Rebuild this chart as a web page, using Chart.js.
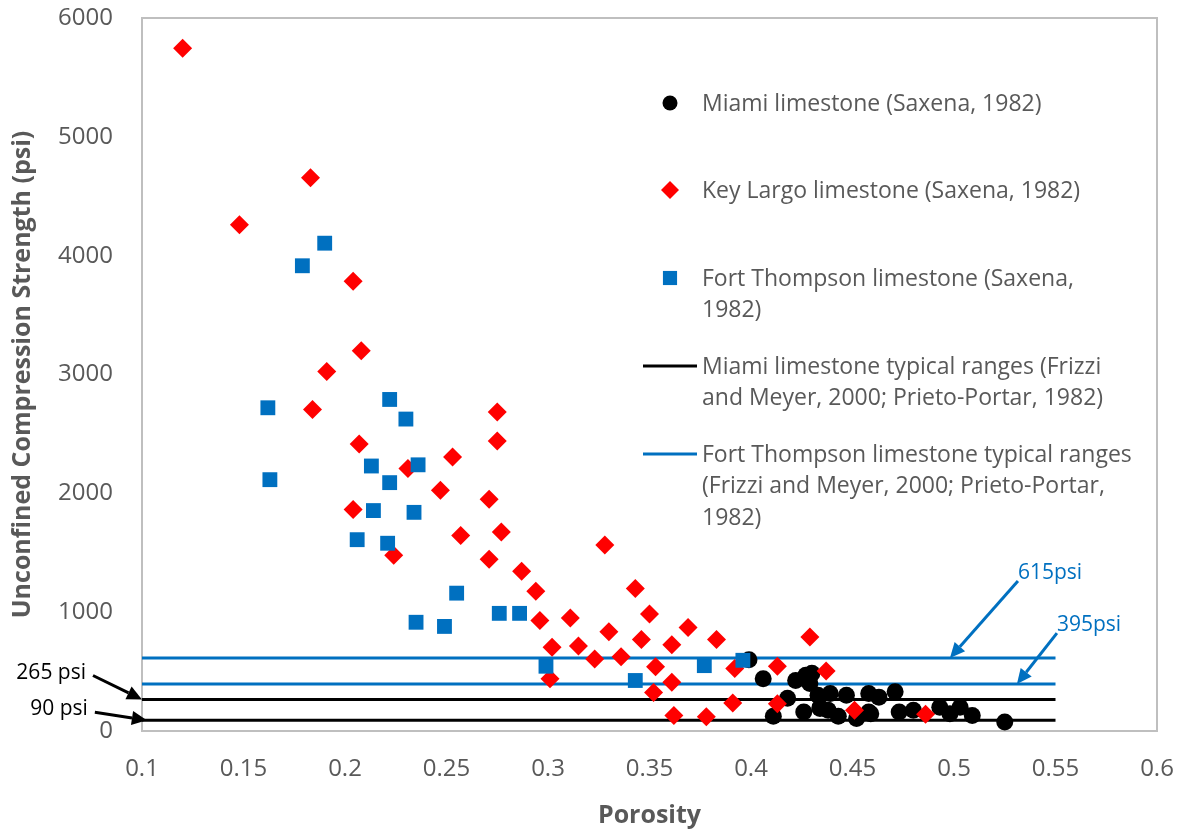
<!DOCTYPE html>
<html>
<head>
<meta charset="utf-8">
<script src="https://cdn.jsdelivr.net/npm/chart.js@4.4.0/dist/chart.umd.min.js"></script>
<style>
  html, body { margin: 0; padding: 0; background: #fff; }
  #wrap { width: 1183px; height: 833px; }
</style>
</head>
<body>
<div id="wrap"><canvas id="grafico" width="1183" height="833"></canvas></div>
<script>
// Miami limestone (Saxena, 1982)
const miamiPorosidade = [0.399, 0.406, 0.422, 0.427, 0.430, 0.429, 0.418, 0.411, 0.426, 0.433, 0.439, 0.447, 0.434, 0.438, 0.443,
  0.458, 0.458, 0.452, 0.463, 0.471, 0.434, 0.459, 0.473, 0.480, 0.493, 0.498, 0.503, 0.509, 0.525];
const miamiResistencia = [600, 440, 425, 470, 485, 400, 275, 125, 160, 300, 315, 300, 190, 175, 125,
  315, 160, 105, 285, 330, 200, 145, 160, 175, 200, 145, 200, 130, 75];

// Key Largo limestone (Saxena, 1982)
const keyLargoPorosidade = [0.120, 0.148, 0.183, 0.204, 0.191, 0.208, 0.184, 0.207, 0.253, 0.231, 0.247, 0.204, 0.271, 0.257, 0.224,
  0.271, 0.275, 0.275, 0.277, 0.287, 0.328, 0.294, 0.296, 0.311, 0.302, 0.315, 0.301, 0.323, 0.343, 0.330, 0.350, 0.346, 0.336,
  0.361, 0.369, 0.383, 0.353, 0.361, 0.352, 0.362, 0.378, 0.391, 0.392, 0.413, 0.429, 0.413, 0.437, 0.451, 0.486];
const keyLargoResistencia = [5745, 4260, 4655, 3785, 3025, 3200, 2705, 2415, 2305, 2210, 2025, 1865, 1950, 1645, 1480,
  1445, 2685, 2440, 1675, 1345, 1565, 1175, 930, 950, 705, 715, 440, 605, 1200, 835, 985, 770, 625,
  725, 870, 770, 540, 410, 325, 130, 120, 235, 525, 545, 790, 230, 505, 175, 140];

// Fort Thompson limestone (Saxena, 1982)
const fortPorosidade = [0.190, 0.179, 0.162, 0.163, 0.222, 0.230, 0.213, 0.236, 0.222, 0.214, 0.234, 0.206, 0.221,
  0.235, 0.249, 0.255, 0.276, 0.286, 0.299, 0.343, 0.377, 0.396];
const fortResistencia = [4105, 3915, 2720, 2115, 2790, 2625, 2230, 2240, 2090, 1855, 1840, 1610, 1580,
  915, 880, 1160, 990, 990, 545, 425, 550, 595];

// faixas típicas (psi) e extensão das linhas em porosidade
const faixaMiami = [90, 265];
const faixaFort = [395, 615];
const faixaPorosidade = [0.1, 0.55];

const rotulosLegenda = [
  ['Miami limestone (Saxena, 1982)'],
  ['Key Largo limestone (Saxena, 1982)'],
  ['Fort Thompson limestone (Saxena,', '1982)'],
  ['Miami limestone typical ranges (Frizzi', 'and Meyer, 2000; Prieto-Portar, 1982)'],
  ['Fort Thompson limestone typical ranges', '(Frizzi and Meyer, 2000; Prieto-Portar,', '1982)']
];

const AZUL = '#0070C0';
const VERMELHO = '#FF0000';
const PRETO = '#000000';
const CINZA = '#595959';
const FONTE = '"Open Sans", Lato, sans-serif';

Chart.defaults.font.family = FONTE;

function pontos(xs, ys) {
  return xs.map((x, i) => ({ x: x, y: ys[i] }));
}

function linhaFaixa(valor, cor, rotulo) {
  return {
    type: 'line',
    label: rotulo,
    data: faixaPorosidade.map(x => ({ x: x, y: valor })),
    borderColor: cor,
    borderWidth: 3,
    pointRadius: 0,
    fill: false,
    order: 5
  };
}

const datasets = [
  {
    label: rotulosLegenda[2].join(' '),
    data: pontos(fortPorosidade, fortResistencia),
    pointStyle: 'rect', pointRadius: 10.5,
    backgroundColor: AZUL, borderColor: AZUL, borderWidth: 0,
    order: 1
  },
  {
    label: rotulosLegenda[1].join(' '),
    data: pontos(keyLargoPorosidade, keyLargoResistencia),
    pointStyle: 'rectRot', pointRadius: 9.5,
    backgroundColor: VERMELHO, borderColor: VERMELHO, borderWidth: 0,
    order: 2
  },
  {
    label: rotulosLegenda[0].join(' '),
    data: pontos(miamiPorosidade, miamiResistencia),
    pointStyle: 'circle', pointRadius: 8.5,
    backgroundColor: PRETO, borderColor: PRETO, borderWidth: 0,
    order: 3
  }
];
faixaMiami.forEach(v => datasets.push(linhaFaixa(v, PRETO, rotulosLegenda[3].join(' '))));
faixaFort.forEach(v => datasets.push(linhaFaixa(v, AZUL, rotulosLegenda[4].join(' '))));

// marcadores da legenda (na mesma ordem dos rótulos)
const marcadoresLegenda = [
  { tipo: 'ponto', estilo: 'circle', raio: 7.5, cor: PRETO },
  { tipo: 'ponto', estilo: 'rectRot', raio: 9, cor: VERMELHO },
  { tipo: 'ponto', estilo: 'rect', raio: 10, cor: AZUL },
  { tipo: 'linha', cor: PRETO },
  { tipo: 'linha', cor: AZUL }
];

// setas com texto: ponta em coordenadas do gráfico, início relativo em pixels
const anotacoes = [
  { texto: '615psi', y: 615, x: 0.498, dx: 68, dy: -77, cor: AZUL, lado: 'left' },
  { texto: '395psi', y: 395, x: 0.531, dx: 40, dy: -51, cor: AZUL, lado: 'left' },
  { texto: '265 psi', y: 265, x: 0.1, dx: -49, dy: -24, cor: PRETO, lado: 'right' },
  { texto: '90 psi', y: 90, x: 0.1024, dx: -52, dy: -8, cor: PRETO, lado: 'right' }
];

function seta(ctx, x1, y1, x2, y2, cor) {
  const ang = Math.atan2(y2 - y1, x2 - x1);
  const comp = 15, larg = 7;
  const bx = x2 - comp * Math.cos(ang), by = y2 - comp * Math.sin(ang);
  ctx.strokeStyle = cor;
  ctx.fillStyle = cor;
  ctx.lineWidth = 3;
  ctx.beginPath();
  ctx.moveTo(x1, y1);
  ctx.lineTo(bx, by);
  ctx.stroke();
  ctx.beginPath();
  ctx.moveTo(x2, y2);
  ctx.lineTo(bx + larg * Math.sin(ang), by - larg * Math.cos(ang));
  ctx.lineTo(bx - larg * Math.sin(ang), by + larg * Math.cos(ang));
  ctx.closePath();
  ctx.fill();
}

const extras = {
  id: 'extras',
  beforeDatasetsDraw(chart) {
    const { ctx, chartArea: a } = chart;
    ctx.save();
    ctx.strokeStyle = '#bfbfbf';
    ctx.lineWidth = 2;
    ctx.strokeRect(a.left, a.top, a.right - a.left, a.bottom - a.top);
    ctx.restore();
  },
  afterDraw(chart) {
    const { ctx } = chart;
    const sx = chart.scales.x, sy = chart.scales.y;
    ctx.save();

    // legenda
    const xMarcador = 670, xTexto = 702, linhaAltura = 31.7;
    const yEntradas = [103, 190, 278, 366, 454];
    ctx.font = '23px ' + FONTE;
    ctx.textBaseline = 'middle';
    ctx.textAlign = 'left';
    rotulosLegenda.forEach((linhas, i) => {
      const m = marcadoresLegenda[i];
      const yc = yEntradas[i];
      if (m.tipo === 'ponto') {
        ctx.fillStyle = m.cor;
        ctx.strokeStyle = m.cor;
        Chart.helpers.drawPoint(ctx, { pointStyle: m.estilo, radius: m.raio, rotation: 0, borderWidth: 0 }, xMarcador, yc);
      } else {
        ctx.strokeStyle = m.cor;
        ctx.lineWidth = 3;
        ctx.beginPath();
        ctx.moveTo(643, yc);
        ctx.lineTo(697, yc);
        ctx.stroke();
      }
      ctx.fillStyle = CINZA;
      linhas.forEach((t, j) => ctx.fillText(t, xTexto, yc + 1 + j * linhaAltura));
    });

    // setas e valores das faixas
    ctx.font = '21px ' + FONTE;
    ctx.textBaseline = 'alphabetic';
    anotacoes.forEach(a => {
      const px = sx.getPixelForValue(a.x), py = sy.getPixelForValue(a.y);
      const ix = px + a.dx, iy = py + a.dy;
      seta(ctx, ix, iy, px, py, a.cor);
      ctx.fillStyle = a.cor;
      ctx.textAlign = a.lado;
      if (a.lado === 'left') ctx.fillText(a.texto, ix, iy - 2);
      else ctx.fillText(a.texto, ix - 7, iy + 3);
    });
    ctx.restore();
  }
};

new Chart(document.getElementById('grafico'), {
  type: 'scatter',
  data: { datasets: datasets },
  options: {
    responsive: false,
    animation: false,
    devicePixelRatio: 1,
    layout: { padding: { top: 18, right: 26, left: 0, bottom: 0 } },
    plugins: {
      legend: { display: false },
      tooltip: { enabled: false }
    },
    scales: {
      x: {
        type: 'linear',
        min: 0.1, max: 0.6,
        grid: { display: false, drawTicks: false },
        border: { display: false },
        ticks: {
          stepSize: 0.05,
          padding: 24,
          color: CINZA,
          font: { size: 24 },
          maxRotation: 0,
          callback: v => String(+v.toFixed(2))
        },
        title: {
          display: true,
          text: 'Porosity',
          color: CINZA,
          font: { size: 25, weight: 'bold' },
          padding: { top: 0, bottom: 2 }
        },
        afterFit: s => { s.height = 102; s.paddingLeft = 0; s.paddingRight = 0; }
      },
      y: {
        min: 0, max: 6000,
        grid: { display: false, drawTicks: false },
        border: { display: false },
        ticks: {
          stepSize: 1000,
          padding: 29,
          color: CINZA,
          font: { size: 24 },
          callback: v => String(v)
        },
        title: {
          display: true,
          text: 'Unconfined Compression Strength (psi)',
          color: CINZA,
          font: { size: 25, weight: 'bold' },
          padding: { top: 8, bottom: 0 }
        },
        afterFit: s => { s.width = 142; s.paddingTop = 0; s.paddingBottom = 0; }
      }
    }
  },
  plugins: [extras]
});
</script>
</body>
</html>
